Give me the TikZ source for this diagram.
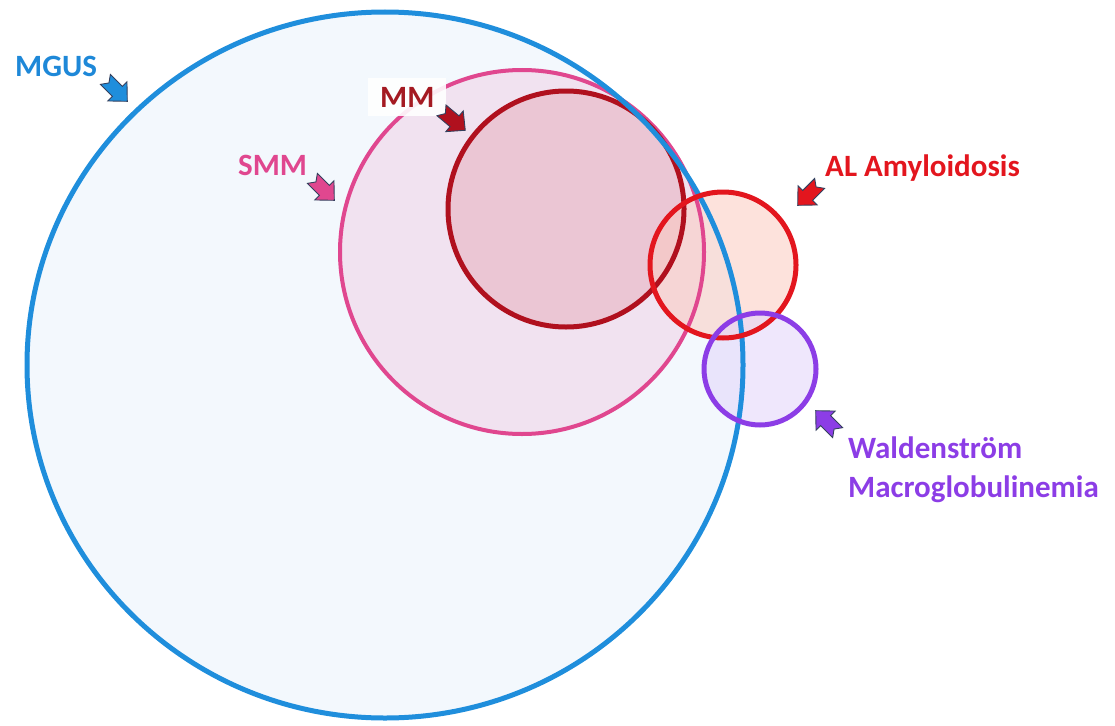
\documentclass[tikz,border=0pt]{standalone}
\usepackage{fontspec}
\setmainfont{Carlito}
\usetikzlibrary{positioning}
\definecolor{mg-line}{HTML}{1F8EDC}
\definecolor{mg-text}{HTML}{1E88D8}
\definecolor{mg-fill}{HTML}{F3F8FD}
\definecolor{smm-line}{HTML}{E0478F}
\definecolor{smm-fill}{HTML}{F0CDE4}
\definecolor{mm-line}{HTML}{B0101E}
\definecolor{mm-text}{HTML}{A41A22}
\definecolor{mm-fill}{HTML}{E8B4C2}
\definecolor{al-line}{HTML}{E3161E}
\definecolor{al-fill}{HTML}{FBCBC0}
\definecolor{wm-line}{HTML}{8C3DE6}
\definecolor{wm-fill}{HTML}{E2D4FA}
\definecolor{ptr-edge}{HTML}{34405E}

\tikzset{
  pics/pointer/.style={code={
    \draw[ptr,fill=#1] (-15,-7) -- (2,-7) -- (2,-13.5) -- (16,0)
      -- (2,13.5) -- (2,7) -- (-15,7) -- (-10,0) -- cycle;}}
}

\begin{document}
\begin{tikzpicture}[
  x=1pt,y=-1pt,
  lbl/.style={font=\fontsize{31}{39}\selectfont\bfseries,inner sep=0pt,anchor=base west},
  ring/.style={line width=5pt},
  ptr/.style={draw=ptr-edge,line width=0.9pt,line join=miter}
]
\useasboundingbox (0,0) rectangle (1115,725);

% centres
\coordinate (mgus) at (385,365);
\coordinate (smm)  at (522,252);
\coordinate (mm)   at (566,209);
\coordinate (al)   at (723,265);
\coordinate (wm)   at (760,369);

% fills first
\fill[mg-fill] (mgus) ellipse [x radius=358,y radius=353];
\fill[smm-fill,fill opacity=0.5] (smm) circle [radius=182];
\fill[mm-fill,fill opacity=0.6] (mm) circle [radius=118];
\fill[al-fill,fill opacity=0.55] (al) circle [radius=73];
\fill[wm-fill,fill opacity=0.55] (wm) circle [radius=56];

% outlines
\draw[ring,smm-line,line width=4pt] (smm) circle [radius=182];
\draw[ring,mm-line] (mm) circle [radius=118];
\draw[ring,mg-line] (mgus) ellipse [x radius=358,y radius=353];
\draw[ring,al-line] (al) circle [radius=73];
\draw[ring,wm-line] (wm) circle [radius=56];

% labels
\node[lbl,mg-text] (mgus-lbl) at (15,77) {MGUS};
\node[lbl,smm-line] (smm-lbl) at (238,175) {SMM};
\node[lbl,mm-text,fill=white,fill opacity=0.9,text opacity=1,
      inner xsep=12pt,inner ysep=9pt] (mm-lbl) at (368,107) {MM};
\node[lbl,al-line] (al-lbl) at (825,176) {AL Amyloidosis};
\node[lbl,wm-line] (wm-lbl) at (848,458) {Waldenström};
\node[lbl,wm-line] (wm-lbl2) at (848,497) {Macroglobulinemia};

% pointers
\pic[rotate=-45] at (116,90)  {pointer=mg-line};
\pic[rotate=-45] at (323,189) {pointer=smm-line};
\pic[rotate=-40] at (453,120) {pointer=mm-line};
\pic[rotate=-135] at (809,194) {pointer=al-line};
\pic[rotate=135] at (827,422) {pointer=wm-line};

\end{tikzpicture}
\end{document}
